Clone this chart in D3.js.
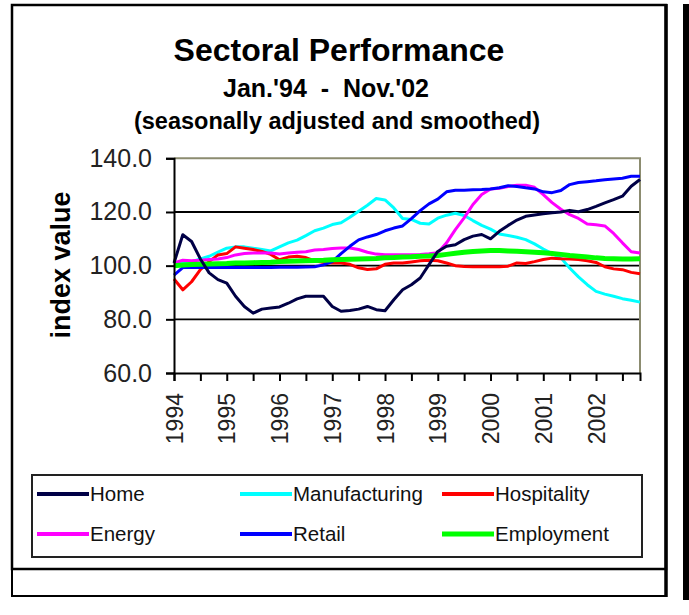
<!DOCTYPE html>
<html>
<head>
<meta charset="utf-8">
<script src="https://cdn.jsdelivr.net/npm/d3@7"></script>
<style>
  body { margin: 0; background: #fff; }
  text { font-family: Arial, "Liberation Sans", sans-serif; }
</style>
</head>
<body>
<svg id="svg1" width="689" height="615"></svg>
<script>
// months since Jan 1994, sampled every two months up to Nov 2002
var months = d3.range(0, 107, 2);

var seriesNames = ["Home", "Manufacturing", "Hospitality", "Energy", "Retail", "Employment"];
var seriesColors = ["#000046", "#00ffff", "#ff0000", "#ff00ff", "#0000ff", "#00ff00"];

var home = [101, 111.5, 109, 102.5, 97.3, 94.8, 93.5, 88.6, 84.8, 82.3, 83.8, 84.2, 84.6, 86, 87.6, 88.6, 88.6, 88.6,
  84.8, 83, 83.3, 83.8, 84.8, 83.6, 83.2, 87.3, 91, 92.9, 95.4, 100.4, 105.3, 107.2, 107.8, 109.7, 111, 111.6,
  110, 112.8, 115, 117, 118.4, 118.9, 119.3, 119.7, 120, 120.6, 120.1, 120.9, 122.1, 123.4, 124.6, 125.9, 129.6, 132.1];
var manufacturing = [100.4, 101, 101.5, 102.5, 103.5, 105, 106.5, 107, 107, 106.5, 106, 105.5, 107, 108.5, 109.5, 111.2, 113, 114,
  115.3, 116, 118, 120.3, 122.5, 125, 124.5, 121.5, 117.6, 117.2, 115.8, 115.5, 117.7, 118.8, 119.5, 118.7, 116.8, 115,
  113.6, 111.8, 111.2, 110.6, 109.7, 108.1, 106.2, 104.5, 102.9, 99.1, 95.8, 92.9, 90.4, 89.4, 88.6, 87.7, 87.1, 86.4];
var hospitality = [95, 91, 94, 98.5, 101.5, 104, 104.5, 107, 106.5, 106, 105.3, 104.2, 102.2, 103.2, 103.5, 103, 101.8, 101.2,
  101, 101, 100.5, 99.2, 98.6, 98.8, 100.5, 101, 101, 101.4, 101.8, 102, 101.8, 101, 100, 99.7, 99.6, 99.6,
  99.6, 99.6, 99.8, 101, 100.8, 101.5, 102.3, 102.8, 102.6, 102.5, 102.3, 101.8, 101.2, 99.6, 98.8, 98.5, 97.5, 97];
var energy = [101, 102, 101.8, 102, 102.3, 102.5, 103, 104, 104.5, 104.7, 104.7, 104.7, 104.3, 104.7, 105, 105.2, 105.8, 106,
  106.4, 106.6, 106.6, 106, 105, 104.3, 104.1, 104.1, 104.1, 104.1, 104.2, 104.4, 104.8, 108.5, 113.4, 117.8, 122.8, 126.5,
  128.6, 128.8, 129.5, 130, 130, 129.2, 126.5, 123.5, 121, 119, 117.6, 115.5, 115.2, 114.8, 112, 108.5, 105.2, 104.7];
var retail = [96.5, 99.3, 99.3, 99.3, 99.3, 99.3, 99.3, 99.3, 99.3, 99.3, 99.3, 99.3, 99.4, 99.4, 99.4, 99.5, 99.6, 100.3,
  101.5, 104.5, 107.2, 109.6, 110.7, 111.6, 113, 114, 114.8, 117.5, 120.5, 123, 124.8, 127.5, 128.1, 128.1, 128.3, 128.4,
  128.6, 129, 129.8, 129.5, 129, 128.6, 127.5, 127.2, 128, 130.2, 131, 131.3, 131.6, 132, 132.3, 132.6, 133.3, 133.3];
var employment = [100, 100.2, 100.4, 100.5, 100.6, 100.7, 100.8, 101, 101, 101.1, 101.2, 101.3, 101.5, 101.6, 101.7, 101.8, 101.9, 102,
  102.2, 102.3, 102.4, 102.5, 102.6, 102.7, 102.9, 103, 103.2, 103.3, 103.5, 103.6, 103.8, 104.2, 104.6, 105, 105.3, 105.5,
  105.6, 105.6, 105.5, 105.4, 105.2, 105, 104.8, 104.5, 104.2, 103.8, 103.5, 103.2, 102.9, 102.7, 102.6, 102.5, 102.5, 102.6];

var yTicks = [60, 80, 100, 120, 140];
var xTickMonths = d3.range(0, 106, 6);
var startYear = 1994;

var allSeries = [home, manufacturing, hospitality, energy, retail, employment];

var svg = d3.select('#svg1');

// outer frames
svg.append('rect').attr('x', 12).attr('y', 5).attr('width', 654).attr('height', 564)
  .attr('fill', 'none').attr('stroke', '#000').attr('stroke-width', 2.5);
svg.append('rect').attr('x', 12).attr('y', 569).attr('width', 654).attr('height', 27)
  .attr('fill', 'none').attr('stroke', '#000').attr('stroke-width', 2);
svg.append('line').attr('x1', 666).attr('x2', 666).attr('y1', 4).attr('y2', 597)
  .attr('stroke', '#000').attr('stroke-width', 3.5);
svg.append('rect').attr('x', 683).attr('y', 4).attr('width', 6).attr('height', 596).attr('fill', '#000');

// titles
svg.append('text').attr('x', 339).attr('y', 61).attr('text-anchor', 'middle')
  .attr('font-size', 32).attr('font-weight', 'bold').text('Sectoral Performance');
svg.append('text').attr('x', 326).attr('y', 97).attr('text-anchor', 'middle')
  .attr('font-size', 25).attr('font-weight', 'bold')
  .style('white-space', 'pre')
  .text("Jan.'94  -  Nov.'02");
svg.append('text').attr('x', 337).attr('y', 129).attr('text-anchor', 'middle')
  .attr('font-size', 23.5).attr('font-weight', 'bold').text('(seasonally adjusted and smoothed)');

var scaleX = d3.scaleLinear().domain([0, 106]).range([174, 640]);
var scaleY = d3.scaleLinear().domain([60, 140]).range([373, 158.3]);

// gridlines
svg.selectAll('.grid')
  .data([80, 100, 120])
  .enter()
  .append('line')
  .attr('class', 'grid')
  .attr('x1', scaleX(0)).attr('x2', scaleX(106))
  .attr('y1', function(d) { return scaleY(d); })
  .attr('y2', function(d) { return scaleY(d); })
  .attr('stroke', '#000').attr('stroke-width', 1.8);

// plot border top / right
svg.append('path')
  .attr('d', 'M' + scaleX(0) + ',' + scaleY(140) + 'H' + scaleX(106) + 'V' + scaleY(60))
  .attr('fill', 'none').attr('stroke', '#8c8c70').attr('stroke-width', 2);

// series
var line = d3.line()
  .x(function(d, i) { return scaleX(months[i]); })
  .y(function(d) { return scaleY(d); });

var drawOrder = [1, 2, 3, 4, 5, 0];
drawOrder.forEach(function(k) {
  svg.append('path')
    .datum(allSeries[k])
    .attr('d', line)
    .attr('fill', 'none')
    .attr('stroke', seriesColors[k])
    .attr('stroke-width', k == 5 ? 5 : 3)
    .attr('stroke-linejoin', 'round');
});

// y axis
var yAxis = svg.append('g')
  .attr('transform', 'translate(' + scaleX(0) + ',0)')
  .call(d3.axisLeft(scaleY).tickValues(yTicks).tickFormat(d3.format('.1f')).tickSize(8).tickPadding(14));
yAxis.select('.domain').attr('stroke', '#000').attr('stroke-width', 2);
yAxis.selectAll('.tick line').attr('stroke', '#000').attr('stroke-width', 2);
yAxis.selectAll('text').attr('font-size', 25).attr('fill', '#222')
  .style('font-family', 'Arial, "Liberation Sans", sans-serif');

// x axis
var xAxis = svg.append('g')
  .attr('transform', 'translate(0,' + scaleY(60) + ')')
  .call(d3.axisBottom(scaleX).tickValues(xTickMonths).tickSize(8)
    .tickFormat(function(m) { return m % 12 == 0 ? String(startYear + m / 12) : ''; }));
xAxis.select('.domain').attr('stroke', '#000').attr('stroke-width', 2);
xAxis.selectAll('.tick line').attr('stroke', '#000').attr('stroke-width', 2);
xAxis.selectAll('text')
  .attr('font-size', 23).attr('fill', '#222')
  .style('font-family', 'Arial, "Liberation Sans", sans-serif')
  .attr('text-anchor', 'end')
  .attr('transform', 'rotate(-90)')
  .attr('x', -20).attr('y', 0).attr('dy', '0.35em');

// axis title
svg.append('text')
  .attr('transform', 'translate(70,265) rotate(-90)')
  .attr('text-anchor', 'middle')
  .attr('font-size', 27).attr('font-weight', 'bold')
  .text('index value');

// legend
svg.append('rect').attr('x', 32).attr('y', 475).attr('width', 610).attr('height', 82)
  .attr('fill', '#fff').attr('stroke', '#222').attr('stroke-width', 2);

var legendX = [37, 240, 442];
var legendY = [494, 534];

svg.selectAll('.legend-line')
  .data(seriesNames)
  .enter()
  .append('line')
  .attr('class', 'legend-line')
  .attr('x1', function(d, i) { return legendX[i % 3]; })
  .attr('x2', function(d, i) { return legendX[i % 3] + 52; })
  .attr('y1', function(d, i) { return legendY[Math.floor(i / 3)]; })
  .attr('y2', function(d, i) { return legendY[Math.floor(i / 3)]; })
  .attr('stroke', function(d, i) { return seriesColors[i]; })
  .attr('stroke-width', function(d, i) { return i == 5 ? 5 : 4; });

svg.selectAll('.legend-text')
  .data(seriesNames)
  .enter()
  .append('text')
  .attr('class', 'legend-text')
  .attr('x', function(d, i) { return legendX[i % 3] + 53; })
  .attr('y', function(d, i) { return legendY[Math.floor(i / 3)]; })
  .attr('dy', '0.35em')
  .attr('font-size', 20.5)
  .attr('fill', '#111')
  .text(function(d) { return d; });
</script>
</body>
</html>
